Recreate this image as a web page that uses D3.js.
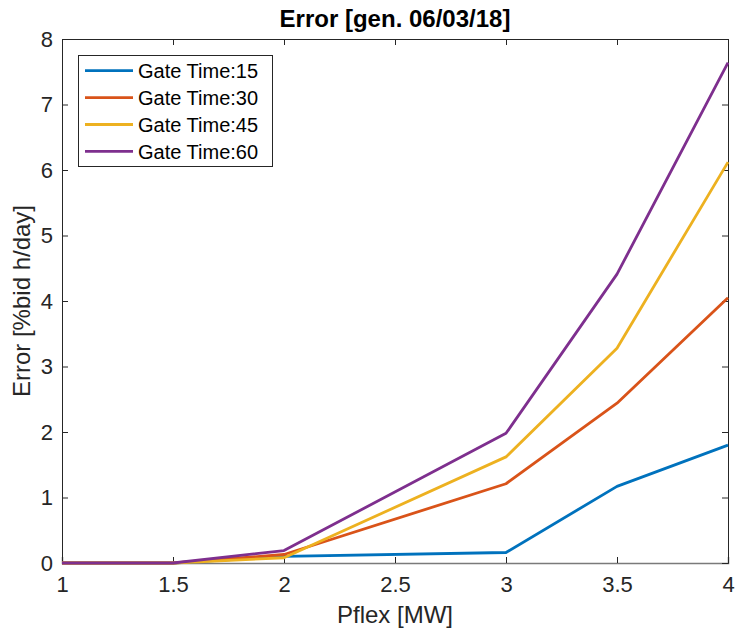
<!DOCTYPE html>
<html>
<head>
<meta charset="utf-8">
<script src="https://cdn.jsdelivr.net/npm/d3@7"></script>
<style>
  body { margin: 0; background: #fff; }
  text { font-family: "Liberation Sans", Arial, sans-serif; }
</style>
</head>
<body>
<svg id="chart"></svg>
<script>
const width = 737;
const height = 634;
const margin = { top: 39, right: 9, bottom: 71, left: 62 };

const pflex = [1, 1.5, 2, 3, 3.5, 4];
const gt15 = [0, 0, 0.1, 0.16, 1.17, 1.8];
const gt30 = [0, 0, 0.13, 1.21, 2.44, 4.05];
const gt45 = [0, 0, 0.08, 1.62, 3.28, 6.12];
const gt60 = [0, 0, 0.19, 1.98, 4.41, 7.64];
const seriesNames = ["Gate Time:15", "Gate Time:30", "Gate Time:45", "Gate Time:60"];
const colors = ["#0072BD", "#D95319", "#EDB120", "#7E2F8E"];
const xTicks = [1, 1.5, 2, 2.5, 3, 3.5, 4];
const yTicks = [0, 1, 2, 3, 4, 5, 6, 7, 8];

const series = [gt15, gt30, gt45, gt60];

const svg = d3.select("#chart")
    .attr("width", width)
    .attr("height", height);

const x = d3.scaleLinear().domain([1, 4]).range([margin.left, width - margin.right]);
const y = d3.scaleLinear().domain([0, 8]).range([height - margin.bottom, margin.top]);

const axisColor = "#262626";

// axes with MATLAB style ticks pointing inward
const xAxis = svg.append("g")
    .attr("transform", `translate(0,${y(0)})`)
    .call(d3.axisBottom(x).tickValues(xTicks).tickSize(-6).tickPadding(13).tickFormat(d3.format("")));
const xTop = svg.append("g")
    .attr("transform", `translate(0,${y(8)})`)
    .call(d3.axisTop(x).tickValues(xTicks).tickSize(-6).tickFormat(""));
const yAxis = svg.append("g")
    .attr("transform", `translate(${x(1)},0)`)
    .call(d3.axisLeft(y).tickValues(yTicks).tickSize(-6).tickPadding(9));
const yRight = svg.append("g")
    .attr("transform", `translate(${x(4)},0)`)
    .call(d3.axisRight(y).tickValues(yTicks).tickSize(-6).tickFormat(""));

[xAxis, xTop, yAxis, yRight].forEach(g => {
    g.select(".domain").attr("stroke", axisColor).attr("stroke-width", 1);
    g.selectAll(".tick line").attr("stroke", axisColor).attr("stroke-width", 1);
    g.selectAll(".tick text")
        .attr("fill", axisColor)
        .style("font-size", "22px");
});
xAxis.select(".domain").attr("stroke", "#7a7a7a").attr("stroke-width", 1.5);

// lines
const line = d3.line()
    .x((d, i) => x(pflex[i]))
    .y(d => y(d));

series.forEach((s, i) => {
    svg.append("path")
        .datum(s)
        .attr("fill", "none")
        .attr("stroke", colors[i])
        .attr("stroke-width", 2.8)
        .attr("stroke-linejoin", "round")
        .attr("d", line);
});

// title and labels
svg.append("text")
    .attr("x", (x(1) + x(4)) / 2)
    .attr("y", 27)
    .attr("text-anchor", "middle")
    .style("font-size", "24px")
    .style("font-weight", "bold")
    .attr("fill", "#000")
    .text("Error [gen. 06/03/18]");

svg.append("text")
    .attr("x", (x(1) + x(4)) / 2)
    .attr("y", 623)
    .attr("text-anchor", "middle")
    .style("font-size", "24px")
    .attr("fill", axisColor)
    .text("Pflex [MW]");

svg.append("text")
    .attr("transform", `translate(30,${(y(0) + y(8)) / 2}) rotate(-90)`)
    .attr("text-anchor", "middle")
    .style("font-size", "24px")
    .attr("fill", axisColor)
    .text("Error [%bid h/day]");

// legend
const legend = svg.append("g");
legend.append("rect")
    .attr("x", 78.5)
    .attr("y", 55.5)
    .attr("width", 194)
    .attr("height", 111)
    .attr("fill", "#fff")
    .attr("stroke", axisColor)
    .attr("stroke-width", 1);

seriesNames.forEach((name, i) => {
    const ly = 70.7 + i * 26.9;
    legend.append("line")
        .attr("x1", 85)
        .attr("x2", 133)
        .attr("y1", ly)
        .attr("y2", ly)
        .attr("stroke", colors[i])
        .attr("stroke-width", 2.8);
    legend.append("text")
        .attr("x", 138)
        .attr("y", ly + 7.5)
        .style("font-size", "20px")
        .attr("fill", "#000")
        .text(name);
});
</script>
</body>
</html>
